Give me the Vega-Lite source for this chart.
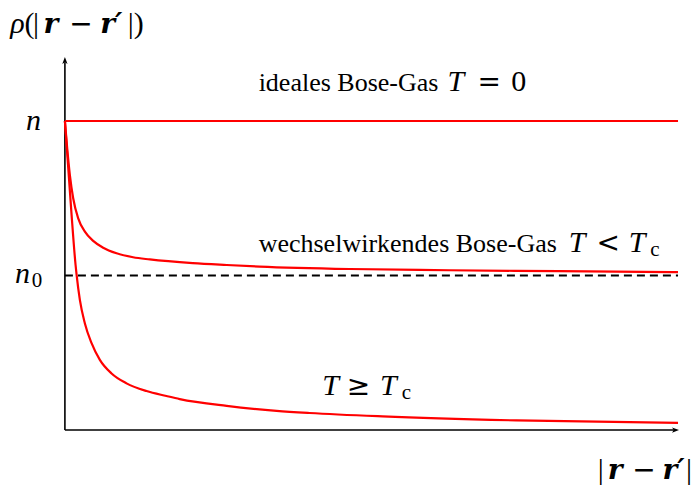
{
  "$schema": "https://vega.github.io/schema/vega-lite/v6.json",
  "width": 692,
  "height": 491,
  "padding": 0,
  "autosize": {"type": "fit", "contains": "padding"},
  "background": "white",
  "config": {"view": {"stroke": null}},
  "datasets": {
    "axes": [
      {"x": 0, "y": 0, "x2": 0, "y2": 1.19},
      {"x": 0, "y": 0, "x2": 9.95, "y2": 0}
    ],
    "heads": [
      {"x": 0, "y": 1.196, "dir": "up"},
      {"x": 9.959, "y": 0, "dir": "right"}
    ],
    "condensate": [
      {"x": 0, "y": 0.5, "x2": 10}
    ],
    "curves": [
      {"s": "ideal", "x": 0, "y": 1},
      {"s": "ideal", "x": 10, "y": 1},

      {"s": "wechsel", "x": 0, "y": 1},
      {"s": "wechsel", "x": 0.037, "y": 0.912},
      {"s": "wechsel", "x": 0.081, "y": 0.825},
      {"s": "wechsel", "x": 0.135, "y": 0.75},
      {"s": "wechsel", "x": 0.217, "y": 0.685},
      {"s": "wechsel", "x": 0.326, "y": 0.642},
      {"s": "wechsel", "x": 0.461, "y": 0.612},
      {"s": "wechsel", "x": 0.624, "y": 0.59},
      {"s": "wechsel", "x": 0.842, "y": 0.572},
      {"s": "wechsel", "x": 1.112, "y": 0.559},
      {"s": "wechsel", "x": 1.384, "y": 0.552},
      {"s": "wechsel", "x": 2.085, "y": 0.54},
      {"s": "wechsel", "x": 2.638, "y": 0.534},
      {"s": "wechsel", "x": 3.176, "y": 0.529},
      {"s": "wechsel", "x": 4.642, "y": 0.521},
      {"s": "wechsel", "x": 6.27, "y": 0.517},
      {"s": "wechsel", "x": 8.06, "y": 0.514},
      {"s": "wechsel", "x": 10, "y": 0.511},

      {"s": "thermisch", "x": 0, "y": 1},
      {"s": "thermisch", "x": 0.054, "y": 0.85},
      {"s": "thermisch", "x": 0.109, "y": 0.696},
      {"s": "thermisch", "x": 0.174, "y": 0.534},
      {"s": "thermisch", "x": 0.191, "y": 0.502},
      {"s": "thermisch", "x": 0.244, "y": 0.421},
      {"s": "thermisch", "x": 0.326, "y": 0.345},
      {"s": "thermisch", "x": 0.435, "y": 0.281},
      {"s": "thermisch", "x": 0.57, "y": 0.227},
      {"s": "thermisch", "x": 0.761, "y": 0.183},
      {"s": "thermisch", "x": 1.005, "y": 0.151},
      {"s": "thermisch", "x": 1.331, "y": 0.126},
      {"s": "thermisch", "x": 1.656, "y": 0.11},
      {"s": "thermisch", "x": 1.873, "y": 0.1},
      {"s": "thermisch", "x": 2.638, "y": 0.078},
      {"s": "thermisch", "x": 3.453, "y": 0.062},
      {"s": "thermisch", "x": 3.99, "y": 0.055},
      {"s": "thermisch", "x": 5.179, "y": 0.044},
      {"s": "thermisch", "x": 7.362, "y": 0.031},
      {"s": "thermisch", "x": 10, "y": 0.023}
    ],
    "text": [
      {"x": 3.16, "y": 1.097, "t": "ideales Bose-Gas"},
      {"x": 3.16, "y": 0.576, "t": "wechselwirkendes Bose-Gas"}
    ],
    "math": [
      {"k": "it", "x": 6.376, "y": 1.097, "t": "T"},
      {"k": "op", "x": 6.922, "y": 1.097, "t": "="},
      {"k": "rm", "x": 7.402, "y": 1.097, "t": "0"},

      {"k": "it", "x": 8.355, "y": 0.576, "t": "T"},
      {"k": "op", "x": 8.86, "y": 0.576, "t": "<"},
      {"k": "it", "x": 9.332, "y": 0.576, "t": "T"},
      {"k": "sub", "x": 9.625, "y": 0.563, "t": "c"},

      {"k": "it", "x": 4.332, "y": 0.113, "t": "T"},
      {"k": "op", "x": 4.788, "y": 0.113, "t": "≥"},
      {"k": "it", "x": 5.277, "y": 0.113, "t": "T"},
      {"k": "sub", "x": 5.57, "y": 0.1, "t": "c"},

      {"k": "it", "x": -0.513, "y": 0.971, "t": "n"},
      {"k": "it", "x": -0.692, "y": 0.476, "t": "n"},
      {"k": "sub", "x": -0.456, "y": 0.463, "t": "0"},

      {"k": "it", "x": -0.774, "y": 1.285, "t": "ρ"},
      {"k": "rm", "x": -0.578, "y": 1.285, "t": "("},
      {"k": "rm", "x": -0.472, "y": 1.285, "t": "|"},
      {"k": "bf", "x": -0.228, "y": 1.285, "t": "r"},
      {"k": "op", "x": 0.261, "y": 1.285, "t": "−"},
      {"k": "bf", "x": 0.757, "y": 1.285, "t": "r′"},
      {"k": "rm", "x": 1.075, "y": 1.285, "t": "|"},
      {"k": "rm", "x": 1.205, "y": 1.285, "t": ")"},

      {"k": "rm", "x": 8.738, "y": -0.159, "t": "|"},
      {"k": "bf", "x": 8.974, "y": -0.159, "t": "r"},
      {"k": "op", "x": 9.446, "y": -0.159, "t": "−"},
      {"k": "bf", "x": 9.927, "y": -0.159, "t": "r′"},
      {"k": "rm", "x": 10.179, "y": -0.159, "t": "|"}
    ]
  },
  "encoding": {
    "x": {"field": "x", "type": "quantitative", "axis": null,
          "scale": {"domain": [-1.0586, 10.2117], "nice": false, "zero": false}},
    "y": {"field": "y", "type": "quantitative", "axis": null,
          "scale": {"domain": [-0.19741, 1.39159], "nice": false, "zero": false}}
  },
  "layer": [
    {
      "data": {"name": "axes"},
      "mark": {"type": "rule", "color": "black", "strokeWidth": 1.6},
      "encoding": {"x2": {"field": "x2"}, "y2": {"field": "y2"}}
    },
    {
      "data": {"name": "heads"},
      "mark": {"type": "point", "filled": true, "color": "black", "size": 49, "opacity": 1},
      "encoding": {
        "shape": {"field": "dir", "type": "nominal", "legend": null,
                  "scale": {"domain": ["up", "right"],
                            "range": ["M0,-1 L0.75,1 L0,0.5 L-0.75,1 Z", "M1,0 L-1,-0.75 L-0.5,0 L-1,0.75 Z"]}}
      }
    },
    {
      "data": {"name": "condensate"},
      "mark": {"type": "rule", "color": "black", "strokeWidth": 2, "strokeDash": [8, 5]},
      "encoding": {"x2": {"field": "x2"}}
    },
    {
      "data": {"name": "curves"},
      "mark": {"type": "line", "color": "#ff0000", "strokeWidth": 2.2, "interpolate": "monotone"},
      "encoding": {"detail": {"field": "s", "type": "nominal"}}
    },
    {
      "data": {"name": "text"},
      "mark": {"type": "text", "font": "Liberation Serif", "fontSize": 26, "align": "left", "baseline": "alphabetic", "color": "black"},
      "encoding": {"text": {"field": "t"}}
    },
    {
      "data": {"name": "math"},
      "transform": [{"filter": "datum.k === 'rm'"}],
      "mark": {"type": "text", "font": "Liberation Serif", "fontSize": 30, "align": "center", "baseline": "alphabetic", "color": "black"},
      "encoding": {"text": {"field": "t"}}
    },
    {
      "data": {"name": "math"},
      "transform": [{"filter": "datum.k === 'op'"}],
      "mark": {"type": "text", "font": "DejaVu Sans", "fontSize": 28, "align": "center", "baseline": "alphabetic", "color": "black"},
      "encoding": {"text": {"field": "t"}}
    },
    {
      "data": {"name": "math"},
      "transform": [{"filter": "datum.k === 'it'"}],
      "mark": {"type": "text", "font": "Liberation Serif", "fontStyle": "italic", "fontSize": 30, "align": "center", "baseline": "alphabetic", "color": "black"},
      "encoding": {"text": {"field": "t"}}
    },
    {
      "data": {"name": "math"},
      "transform": [{"filter": "datum.k === 'bf'"}],
      "mark": {"type": "text", "font": "DejaVu Serif", "fontStyle": "italic", "fontWeight": "bold", "fontSize": 28, "align": "center", "baseline": "alphabetic", "color": "black"},
      "encoding": {"text": {"field": "t"}}
    },
    {
      "data": {"name": "math"},
      "transform": [{"filter": "datum.k === 'sub'"}],
      "mark": {"type": "text", "font": "Liberation Serif", "fontSize": 21, "align": "center", "baseline": "alphabetic", "color": "black"},
      "encoding": {"text": {"field": "t"}}
    }
  ]
}
